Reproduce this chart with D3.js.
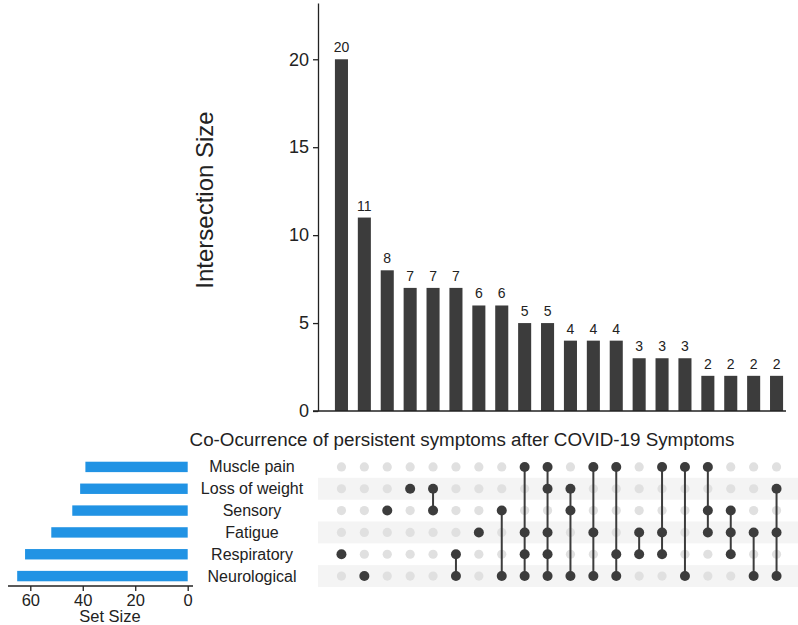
<!DOCTYPE html>
<html><head><meta charset="utf-8">
<script src="https://cdn.jsdelivr.net/npm/d3@7"></script>
<style>body{margin:0;background:#fff}svg{display:block;font-family:"Liberation Sans",Arial,sans-serif}</style>
</head><body><svg id="c" width="798" height="625"></svg>
<script>
const sets = ["Muscle pain","Loss of weight","Sensory","Fatigue","Respiratory","Neurological"];
const setSizes = [39, 41, 44, 52, 62, 65];
const intersections = [
  ["Respiratory"],
  ["Neurological"],
  ["Sensory"],
  ["Loss of weight"],
  ["Loss of weight","Sensory"],
  ["Respiratory","Neurological"],
  ["Fatigue"],
  ["Sensory","Neurological"],
  ["Muscle pain","Fatigue","Respiratory","Neurological"],
  ["Muscle pain","Loss of weight","Fatigue","Respiratory","Neurological"],
  ["Loss of weight","Sensory","Neurological"],
  ["Muscle pain","Fatigue","Neurological"],
  ["Muscle pain","Respiratory","Neurological"],
  ["Fatigue","Respiratory"],
  ["Muscle pain","Fatigue","Respiratory"],
  ["Muscle pain","Neurological"],
  ["Muscle pain","Sensory","Fatigue"],
  ["Sensory","Fatigue","Respiratory"],
  ["Fatigue","Neurological"],
  ["Loss of weight","Fatigue","Neurological"]
];
const counts = [20, 11, 8, 7, 7, 7, 6, 6, 5, 5, 4, 4, 4, 3, 3, 3, 2, 2, 2, 2];
const yTicks = [0, 5, 10, 15, 20];
const setTicks = [0, 20, 40, 60];

const svg = d3.select("#c");
const idx = d3.range(counts.length);

const x = d3.scaleBand().domain(idx).range([330, 788]).paddingInner(0.43).paddingOuter(0.215);
const y = d3.scaleBand().domain(sets).range([456, 587]);
const cx = i => x(i) + x.bandwidth() / 2;
const cy = s => y(s) + y.bandwidth() / 2;

const yS = d3.scaleLinear().domain([0, 23.2]).range([411, 3]);
const gTop = svg.append("g");
gTop.selectAll("rect").data(idx).join("rect")
  .attr("x", i => x(i)).attr("width", x.bandwidth())
  .attr("y", i => yS(counts[i])).attr("height", i => yS(0) - yS(counts[i]))
  .attr("fill", "#3c3c3c");
gTop.selectAll("text.v").data(idx).join("text").attr("class","v")
  .attr("x", i => cx(i)).attr("y", i => yS(counts[i]) - 7)
  .attr("text-anchor","middle").attr("font-size", 14).attr("fill","#222")
  .text(i => counts[i]);

const yAxis = d3.axisLeft(yS).tickValues(yTicks).tickSize(5).tickSizeOuter(0).tickPadding(4);
const ga = svg.append("g").attr("transform","translate(318,0)").call(yAxis);
ga.select(".domain").attr("stroke","#222").attr("stroke-width",1.3);
ga.selectAll(".tick line").attr("stroke","#222").attr("stroke-width",1.3);
ga.selectAll(".tick text").attr("font-size",18).attr("fill","#222").attr("font-family","Liberation Sans, Arial, sans-serif");
svg.append("line").attr("x1",313).attr("x2",786).attr("y1",yS(0)).attr("y2",yS(0))
  .attr("stroke","#222").attr("stroke-width",1.3);

svg.append("text").attr("transform","translate(213,200) rotate(-90)")
  .attr("text-anchor","middle").attr("font-size",24).attr("fill","#222").text("Intersection Size");

svg.append("text").attr("x",462).attr("y",446).attr("text-anchor","middle")
  .attr("font-size",18.8).attr("fill","#222").text("Co-Ocurrence of persistent symptoms after COVID-19 Symptoms");

svg.append("g").selectAll("rect").data(sets.filter((s,i)=>i%2===1)).join("rect")
  .attr("x",318).attr("width",480).attr("y", s => y(s)).attr("height", y.bandwidth())
  .attr("fill","#f4f4f4");

const gm = svg.append("g");
const cells = [];
idx.forEach(i => sets.forEach(s => cells.push({i, s, on: intersections[i].includes(s)})));
gm.selectAll("circle.bg").data(cells.filter(c=>!c.on)).join("circle").attr("class","bg")
  .attr("cx", c => cx(c.i)).attr("cy", c => cy(c.s)).attr("r", 4.6).attr("fill","#e0e0e0");
gm.selectAll("line").data(idx.filter(i => intersections[i].length > 1)).join("line")
  .attr("x1", i => cx(i)).attr("x2", i => cx(i))
  .attr("y1", i => d3.min(intersections[i], cy)).attr("y2", i => d3.max(intersections[i], cy))
  .attr("stroke","#3c3c3c").attr("stroke-width",2);
gm.selectAll("circle.fg").data(cells.filter(c=>c.on)).join("circle").attr("class","fg")
  .attr("cx", c => cx(c.i)).attr("cy", c => cy(c.s)).attr("r", 5).attr("fill","#3c3c3c");

svg.append("g").selectAll("text").data(sets).join("text")
  .attr("x",252).attr("y", s => cy(s) + 5.5).attr("text-anchor","middle")
  .attr("font-size",16).attr("fill","#222").text(s => s);

const xs = d3.scaleLinear().domain([0, 68.5]).range([187.7, 8]);
svg.append("g").selectAll("rect").data(sets).join("rect")
  .attr("x", s => xs(setSizes[sets.indexOf(s)])).attr("width", s => xs(0) - xs(setSizes[sets.indexOf(s)]))
  .attr("y", s => cy(s) - 5.2).attr("height", 10.4).attr("fill","#2193e4");
const xa = d3.axisBottom(xs).tickValues(setTicks).tickSize(5).tickSizeOuter(0).tickPadding(3);
const gx = svg.append("g").attr("transform","translate(0,586)").call(xa);
gx.select(".domain").remove();
gx.selectAll(".tick line").attr("stroke","#222").attr("stroke-width",1.3);
gx.selectAll(".tick text").attr("font-size",16.5).attr("fill","#222").attr("font-family","Liberation Sans, Arial, sans-serif");
svg.append("line").attr("x1",8).attr("x2",193).attr("y1",586).attr("y2",586).attr("stroke","#222").attr("stroke-width",1.3);
svg.append("text").attr("x",110).attr("y",622).attr("text-anchor","middle").attr("font-size",16.5).attr("fill","#222").text("Set Size");
</script></body></html>
